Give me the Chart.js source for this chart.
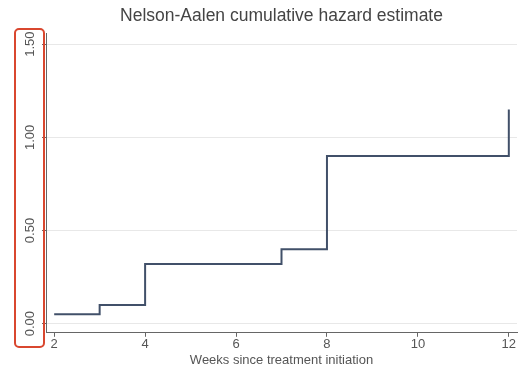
<!DOCTYPE html>
<html lang="en">
<head>
  <meta charset="UTF-8" />
  <title>Nelson-Aalen cumulative hazard estimate</title>
  <script src="https://cdn.jsdelivr.net/npm/chart.js"></script>
  <style>
    html, body { margin: 0; padding: 0; background: #fff; }
    #wrap { position: relative; width: 523px; height: 377px; }
  </style>
</head>
<body>
  <div id="wrap"><canvas id="hazardChart"></canvas></div>

  <script>
    // data
    const weeks = [2, 3, 4, 7, 8, 12];
    const hazard = [0.05, 0.10, 0.32, 0.40, 0.90, 1.15];
    const xTicks = [2, 4, 6, 8, 10, 12];
    const yTicks = [0, 0.5, 1.0, 1.5];
    const yTickLabels = ['0.00', '0.50', '1.00', '1.50'];

    const points = weeks.map((w, i) => ({ x: w, y: hazard[i] }));

    // y labels are rotated in the original, Chart.js won't rotate them on a vertical axis
    const rotatedYLabels = {
      id: 'rotatedYLabels',
      afterDraw(chart) {
        const ctx = chart.ctx;
        const y = chart.scales.y;
        ctx.save();
        ctx.fillStyle = '#555';
        ctx.font = '13px "Liberation Sans", Arial, sans-serif';
        ctx.textAlign = 'center';
        ctx.textBaseline = 'middle';
        yTicks.forEach((v, i) => {
          ctx.save();
          ctx.translate(30, y.getPixelForValue(v));
          ctx.rotate(-Math.PI / 2);
          ctx.fillText(yTickLabels[i], 0, 0);
          ctx.restore();
        });
        // red highlight box round the labels
        ctx.strokeStyle = '#d9472f';
        ctx.lineWidth = 2;
        ctx.beginPath();
        ctx.roundRect(15, 29, 29, 318, 4);
        ctx.stroke();
        ctx.restore();
      }
    };

    new Chart(document.getElementById('hazardChart'), {
      type: 'line',
      data: {
        datasets: [{
          data: points,
          stepped: true,
          borderColor: '#415069',
          borderWidth: 2,
          pointRadius: 0,
          fill: false
        }]
      },
      options: {
        responsive: true,
        maintainAspectRatio: false,
        animation: false,
        layout: { padding: { left: 0, right: 6, top: 0, bottom: 0 } },
        plugins: {
          legend: { display: false },
          tooltip: { enabled: false },
          title: {
            display: true,
            fullSize: false,
            text: 'Nelson-Aalen cumulative hazard estimate',
            color: '#444',
            font: { family: '"Liberation Sans", Arial, sans-serif', size: 17.5, weight: 'normal' },
            padding: { top: 6, bottom: 6 }
          }
        },
        scales: {
          x: {
            type: 'linear',
            min: 1.82,
            max: 12.18,
            afterBuildTicks: s => { s.ticks = xTicks.map(v => ({ value: v })); },
            grid: { drawOnChartArea: false, drawTicks: true, tickLength: 4, tickColor: '#666' },
            border: { color: '#666', width: 1 },
            ticks: {
              color: '#555',
              padding: 0,
              font: { family: '"Liberation Sans", Arial, sans-serif', size: 13 },
              maxRotation: 0
            },
            title: {
              display: true,
              text: 'Weeks since treatment initiation',
              color: '#555',
              font: { family: '"Liberation Sans", Arial, sans-serif', size: 13 },
              padding: { top: 0, bottom: 9 }
            }
          },
          y: {
            min: -0.049,
            max: 1.56,
            afterBuildTicks: s => { s.ticks = yTicks.map(v => ({ value: v })); },
            afterFit: s => { s.width = 46; },
            grid: { color: '#e8e8e8', lineWidth: 1, drawTicks: true, tickLength: 4, tickColor: '#666' },
            border: { color: '#666', width: 1 },
            ticks: { display: false }
          }
        }
      },
      plugins: [rotatedYLabels]
    });
  </script>
</body>
</html>
